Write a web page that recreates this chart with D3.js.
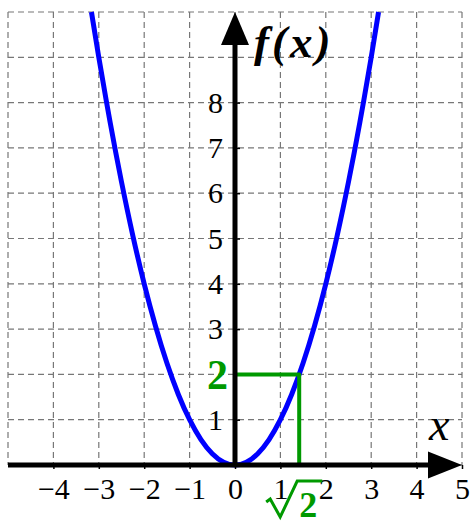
<!DOCTYPE html>
<html><head><meta charset="utf-8">
<script src="https://cdn.jsdelivr.net/npm/d3@7"></script>
<style>body{margin:0;background:#fff}svg{display:block}</style>
</head><body>
<script>
const xTicks = [-4,-3,-2,-1,0,1,2,3,4,5];
const yTicks = [1,3,4,5,6,7,8];
const gridX = [-5,-4,-3,-2,-1,0,1,2,3,4,5];
const gridY = [0,1,2,3,4,5,6,7,8,9,10];
const curveX = [-3.162,-3,-2.75,-2.5,-2.25,-2,-1.75,-1.5,-1.25,-1,-0.75,-0.5,-0.25,0,0.25,0.5,0.75,1,1.25,1.5,1.75,2,2.25,2.5,2.75,3,3.162];
const curveY = [10,9,7.5625,6.25,5.0625,4,3.0625,2.25,1.5625,1,0.5625,0.25,0.0625,0,0.0625,0.25,0.5625,1,1.5625,2.25,3.0625,4,5.0625,6.25,7.5625,9,10];
const markX = 1.4142, markY = 2;

const W = 470, H = 522;
const svg = d3.select("body").append("svg").attr("width", W).attr("height", H);
const x = d3.scaleLinear().domain([-5,5]).range([8,462]);
const y = d3.scaleLinear().domain([0,10]).range([465,12]);

// grid
const grid = svg.append("g").attr("stroke","#777").attr("stroke-width",1.2).attr("stroke-dasharray","6,4");
grid.selectAll(".gx").data(gridX).join("line").attr("x1",d=>x(d)).attr("x2",d=>x(d)).attr("y1",y(10)).attr("y2",y(0));
grid.selectAll(".gy").data(gridY).join("line").attr("y1",d=>y(d)).attr("y2",d=>y(d)).attr("x1",x(-5)).attr("x2",x(5));

// curve
const pts = curveX.map((d,i)=>[d,curveY[i]]);
svg.append("path").datum(pts)
  .attr("d", d3.line().x(d=>x(d[0])).y(d=>y(d[1])).curve(d3.curveNatural))
  .attr("fill","none").attr("stroke","#0000ff").attr("stroke-width",5);

// green marker
const green = "#009900";
svg.append("path")
  .attr("d", `M${x(0)},${y(markY)}H${x(markX)}V${y(0)}`)
  .attr("fill","none").attr("stroke",green).attr("stroke-width",4).attr("stroke-linecap","round").attr("stroke-linejoin","round");

// axes lines + arrows
svg.append("line").attr("x1",x(-5)).attr("x2",x(5)-30).attr("y1",y(0)).attr("y2",y(0)).attr("stroke","#000").attr("stroke-width",5);
svg.append("path").attr("d",`M${x(5)},${y(0)}L${x(5)-34},${y(0)-13.5}L${x(5)-34},${y(0)+13.5}Z`).attr("fill","#000");
svg.append("line").attr("x1",x(0)).attr("x2",x(0)).attr("y1",y(0)+2).attr("y2",y(10)+30).attr("stroke","#000").attr("stroke-width",5);
svg.append("path").attr("d",`M${x(0)},${y(10)}L${x(0)-14},${y(10)+33}L${x(0)+14},${y(10)+33}Z`).attr("fill","#000");

const fmt = d => d < 0 ? "\u2212" + Math.abs(d) : String(d);
const ax = svg.append("g").attr("transform",`translate(0,${y(0)})`)
  .call(d3.axisBottom(x).tickValues(xTicks).tickFormat(fmt).tickSize(4).tickPadding(9));
ax.select(".domain").remove();
ax.selectAll("line").attr("stroke","#000").attr("stroke-width",1.5);
ax.selectAll("text").attr("font-family","'Liberation Serif', serif").attr("font-size",30).attr("fill","#000");

const ay = svg.append("g").attr("transform",`translate(${x(0)},0)`)
  .call(d3.axisLeft(y).tickValues(yTicks).tickFormat(fmt).tickSize(-5).tickPadding(12));
ay.select(".domain").remove();
ay.selectAll("line").attr("stroke","#000").attr("stroke-width",1.5);
ay.selectAll("text").attr("font-family","'Liberation Serif', serif").attr("font-size",30).attr("fill","#000");

// labels
svg.append("text").attr("x",x(0)-7).attr("y",y(markY)).attr("dy","0.34em").attr("text-anchor","end")
  .attr("font-family","'Liberation Serif', serif").attr("font-weight","bold").attr("font-size",42).attr("fill",green).text("2");

// sqrt(2) label
const sx = x(markX);
svg.append("path")
  .attr("d",`M${sx-33},${502}L${sx-29},${499}L${sx-19},${517}L${sx-2},${481}H${sx+23}`)
  .attr("fill","none").attr("stroke",green).attr("stroke-width",3).attr("stroke-linejoin","miter");
svg.append("text").attr("x",sx).attr("y",517)
  .attr("font-family","'Liberation Serif', serif").attr("font-weight","bold").attr("font-size",36).attr("textLength",22).attr("fill",green).text("2");

svg.append("text").attr("x",254).attr("y",57)
  .attr("font-family","'Liberation Serif', serif").attr("font-weight","bold").attr("font-style","italic").attr("font-size",45).attr("letter-spacing",3).attr("fill","#000")
  .text("f(x)");
svg.append("text").attr("x",429).attr("y",440)
  .attr("font-family","'Liberation Serif', serif").attr("font-style","italic").attr("font-size",46).attr("fill","#000").text("x");
</script>
</body></html>
